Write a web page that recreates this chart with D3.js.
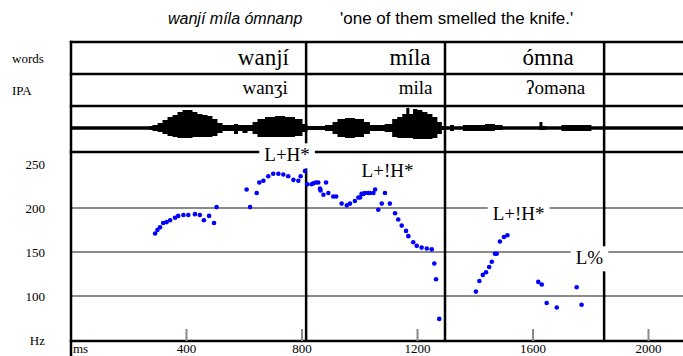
<!DOCTYPE html>
<html>
<head>
<meta charset="utf-8">
<script src="https://cdn.jsdelivr.net/npm/d3@7"></script>
<style>
  body { margin: 0; background: #fff; }
  svg { display: block; }
</style>
</head>
<body>
<svg id="chart" width="683" height="356"></svg>
<script>
// Utterance and gloss
const titleWords = "wanjí míla ómnanp";
const titleGloss = "'one of them smelled the knife.'";

// Annotation tiers
const tierNames = ["words", "IPA"];
const wordLabels = ["wanjí", "míla", "ómna"];
const wordLabelTimes = [668, 1176, 1654];
const ipaLabels = ["wanʒi", "mila", "ʔoməna"];
const ipaLabelTimes = [674, 1195, 1680];
const boundaryTimes = [816, 1297, 1848];

// Tone labels (time in ms, vertical level in Hz)
const toneLabels = ["L+H*", "L+!H*", "L+!H*", "L%"];
const toneTimes = [750, 1098, 1552, 1797];
const toneLevels = [253, 235, 186, 136];

// Axes
const hzTicks = [250, 200, 150, 100];
const hzGrid = [200, 150, 100];
const msTicks = [400, 800, 1200, 1600, 2000];

// F0 track (ms, Hz)
const pitchTimes = [293, 301, 310, 321, 333, 345, 362, 373, 391, 408, 431, 448, 462, 480, 497, 506,
  610, 622, 645, 654, 668, 685, 702, 720, 737, 754, 772, 789, 797, 812, 820, 835, 841, 850, 858,
  864, 866, 876, 885, 893, 910, 920, 939, 957, 968, 985, 997, 1003, 1008, 1014, 1020, 1031, 1037,
  1049, 1055, 1066, 1078, 1089, 1106, 1124, 1135, 1147, 1162, 1170, 1187, 1199, 1216, 1234, 1251,
  1260, 1266, 1277,
  1404, 1416, 1428, 1439, 1450, 1459, 1470, 1476, 1487, 1501, 1513,
  1620, 1632, 1649, 1684, 1753, 1770];
const pitchHz = [171, 175, 178, 183, 184, 186, 189, 191, 192, 192, 193, 192, 186, 191, 183, 201,
  221, 201, 217, 229, 231, 236, 239, 239, 238, 236, 232, 231, 236, 242, 227, 227, 228, 229, 229,
  222, 220, 215, 229, 217, 213, 213, 205, 203, 205, 208, 212, 212, 216, 216, 217, 217, 217,
  217, 221, 198, 205, 217, 205, 194, 187, 180, 174, 168, 161, 157, 155, 154, 153,
  137, 119, 74,
  105, 117, 124, 127, 133, 139, 148, 148, 162, 167, 169,
  116, 113, 92, 87, 110, 90];

// Waveform envelope (ms, upper / lower amplitude in % of full scale)
const waveTimes = [275, 293, 310, 327, 345, 362, 379, 397, 414, 431, 448, 466, 483, 500, 518, 535,
  559, 573, 587, 604, 622, 639, 656, 691, 726, 760, 795, 812, 829, 864, 899, 916, 933, 968, 1003,
  1030, 1044, 1071, 1105, 1123, 1140, 1158, 1168, 1179, 1193, 1210, 1227, 1245, 1262, 1279, 1293,
  1307, 1321, 1335, 1383, 1418, 1453, 1487, 1505, 1619, 1629, 1640, 1654, 1747, 1799, 1809];
const waveUpper = [9, 14, 23, 36, 50, 59, 73, 82, 82, 73, 64, 59, 55, 41, 23, 14,
  14, 18, 14, 14, 14, 27, 41, 50, 55, 50, 41, 18, 9, 9, 14, 27, 41, 45, 41,
  27, 14, 14, 18, 41, 50, 64, 91, 64, 86, 82, 73, 64, 50, 27, 9,
  5, 14, 5, 14, 14, 18, 14, 5, 5, 27, 9, 5, 14, 14, 5];
const waveLower = [9, 14, 18, 27, 36, 41, 45, 45, 45, 41, 41, 41, 41, 36, 23, 14,
  14, 27, 14, 23, 14, 27, 41, 41, 41, 41, 36, 18, 9, 9, 14, 27, 41, 45, 41,
  27, 14, 14, 18, 41, 45, 45, 45, 45, 50, 50, 50, 50, 45, 27, 9,
  5, 14, 5, 14, 14, 14, 9, 5, 5, 9, 9, 5, 14, 14, 5];

const svg = d3.select("#chart");
const W = 683;
const left = 71;
const rowTop = 42, rowWords = 74, rowIpa = 106, pitchTop = 152, axisY = 341;
const serif = "'Liberation Serif', 'Times New Roman', serif";
const sans = "'Liberation Sans', Arial, sans-serif";

const x = d3.scaleLinear().domain([0, 2000]).range([70.5, 648]);
const y = d3.scaleLinear().domain([50, 200]).range([340, 208]);
const wy = d3.scaleLinear().domain([-100, 100]).range([150, 106]);

// Title line
svg.append("text").attr("x", 168).attr("y", 24)
  .attr("font-family", sans).attr("font-style", "italic").attr("font-size", 16)
  .text(titleWords);
svg.append("text").attr("x", 340).attr("y", 24)
  .attr("font-family", sans).attr("font-size", 17)
  .text(titleGloss);

// Horizontal Hz grid
svg.append("g").selectAll("line").data(hzGrid).join("line")
  .attr("x1", left).attr("x2", W)
  .attr("y1", d => y(d)).attr("y2", d => y(d))
  .attr("stroke", "#8a8a8a").attr("stroke-width", 2);

// Waveform
const area = d3.area()
  .curve(d3.curveStep)
  .x((d, i) => x(waveTimes[i]))
  .y0((d, i) => wy(-waveLower[i]))
  .y1((d, i) => wy(waveUpper[i]));
svg.append("path").datum(waveTimes).attr("d", area).attr("fill", "#000");
svg.append("line").attr("x1", left).attr("x2", W)
  .attr("y1", wy(0)).attr("y2", wy(0))
  .attr("stroke", "#000").attr("stroke-width", 3.5);

// Tier frame lines
svg.append("g").selectAll("line").data([rowTop, rowWords, rowIpa, pitchTop, axisY]).join("line")
  .attr("x1", left - 1.25).attr("x2", W)
  .attr("y1", d => d).attr("y2", d => d)
  .attr("stroke", "#000").attr("stroke-width", 2.5);
svg.append("line").attr("x1", left).attr("x2", left)
  .attr("y1", rowTop - 1.25).attr("y2", 356)
  .attr("stroke", "#000").attr("stroke-width", 2.5);

// Interval boundaries
svg.append("g").selectAll("line").data(boundaryTimes).join("line")
  .attr("x1", d => x(d)).attr("x2", d => x(d))
  .attr("y1", rowTop).attr("y2", axisY)
  .attr("stroke", "#000").attr("stroke-width", 2.5);

// Time axis: inward grey ticks, labels below
const xAxis = d3.axisBottom(x).tickValues(msTicks).tickSize(-12).tickPadding(3)
  .tickFormat(d3.format("d"));
const gx = svg.append("g").attr("transform", `translate(0,${axisY})`).call(xAxis);
gx.select(".domain").remove();
gx.selectAll(".tick line").attr("stroke", "#8a8a8a").attr("stroke-width", 2);
gx.selectAll(".tick text").attr("font-family", serif).attr("font-size", 13).attr("fill", "#000");
svg.append("text").attr("x", 73).attr("y", 353)
  .attr("font-family", serif).attr("font-size", 13).text("ms");

// Hz axis labels
const yAxis = d3.axisLeft(y).tickValues(hzTicks).tickSize(0).tickPadding(0);
const gy = svg.append("g").attr("transform", "translate(45,0)").call(yAxis);
gy.select(".domain").remove();
gy.selectAll(".tick text").attr("font-family", serif).attr("font-size", 13).attr("fill", "#000");
svg.append("text").attr("x", 45).attr("y", y(50) + 5).attr("text-anchor", "end")
  .attr("font-family", serif).attr("font-size", 13).text("Hz");

// Tier names
svg.append("g").selectAll("text").data(tierNames).join("text")
  .attr("x", 12).attr("y", (d, i) => [63, 95][i])
  .attr("font-family", serif).attr("font-size", 13).text(d => d);

// Word and IPA labels
svg.append("g").selectAll("text").data(wordLabels).join("text")
  .attr("x", (d, i) => x(wordLabelTimes[i])).attr("y", 65)
  .attr("text-anchor", "middle").attr("font-family", serif).attr("font-size", 23)
  .text(d => d);
svg.append("g").selectAll("text").data(ipaLabels).join("text")
  .attr("x", (d, i) => x(ipaLabelTimes[i])).attr("y", 94)
  .attr("text-anchor", "middle").attr("font-family", serif).attr("font-size", 19)
  .text(d => d);

// Tone labels on white
const tones = svg.append("g");
toneLabels.forEach((t, i) => {
  const g = tones.append("g");
  const txt = g.append("text")
    .attr("x", x(toneTimes[i])).attr("y", y(toneLevels[i]))
    .attr("text-anchor", "middle").attr("font-family", serif).attr("font-size", 19)
    .text(t);
  const b = txt.node().getBBox();
  g.insert("rect", "text")
    .attr("x", b.x - 5).attr("y", b.y - 1)
    .attr("width", b.width + 10).attr("height", b.height + 4)
    .attr("fill", "#fff");
});

// F0 points
svg.append("g").selectAll("circle").data(pitchTimes).join("circle")
  .attr("cx", (d, i) => x(d)).attr("cy", (d, i) => y(pitchHz[i]))
  .attr("r", 2.3).attr("fill", "#0000ff");
</script>
</body>
</html>
